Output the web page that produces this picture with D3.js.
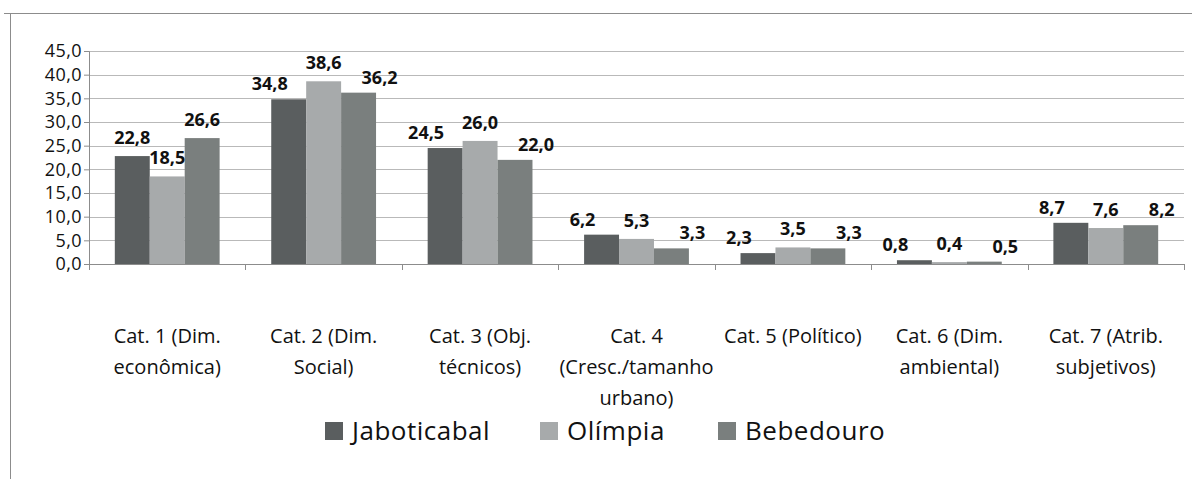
<!DOCTYPE html>
<html>
<head>
<meta charset="utf-8">
<script src="https://cdn.jsdelivr.net/npm/d3@7"></script>
<style>
  body { margin: 0; background: #fff; }
  svg { font-family: "Open Sans", sans-serif; }
</style>
</head>
<body>
<div id="chart"></div>
<script>
const categories = [
  "Cat. 1 (Dim. econômica)",
  "Cat. 2 (Dim. Social)",
  "Cat. 3 (Obj. técnicos)",
  "Cat. 4 (Cresc./tamanho urbano)",
  "Cat. 5 (Político)",
  "Cat. 6 (Dim. ambiental)",
  "Cat. 7 (Atrib. subjetivos)"
]
const seriesNames = ["Jaboticabal", "Olímpia", "Bebedouro"]
const jaboticabal = [22.8, 34.8, 24.5, 6.2, 2.3, 0.8, 8.7]
const olimpia = [18.5, 38.6, 26.0, 5.3, 3.5, 0.4, 7.6]
const bebedouro = [26.6, 36.2, 22.0, 3.3, 3.3, 0.5, 8.2]
const yTicks = [0, 5, 10, 15, 20, 25, 30, 35, 40, 45]

const seriesValues = [jaboticabal, olimpia, bebedouro]
const colors = ["#5a5e5f", "#a7aaab", "#7a7f7e"]

/* Chart Dimensions */
const dimensions = {
  width: 1192,
  height: 479,
  margin: { top: 51, right: 8, bottom: 215, left: 89 }
}
dimensions.boundedWidth = dimensions.width - dimensions.margin.left - dimensions.margin.right
dimensions.boundedHeight = dimensions.height - dimensions.margin.top - dimensions.margin.bottom

const svg = d3.select("#chart").append("svg")
    .attr("width", dimensions.width)
    .attr("height", dimensions.height)

// outer frame
svg.append("path")
    .attr("d", `M4,13.5 H${dimensions.width} M10.5,13.5 V${dimensions.height}`)
    .attr("stroke", "#8c8c8c")
    .attr("fill", "none")

const bounds = svg.append("g")
    .attr("transform", `translate(${dimensions.margin.left},${dimensions.margin.top})`)

/* Scales */
const xScale = d3.scaleBand()
    .domain(categories)
    .range([0, dimensions.boundedWidth])

const groupWidth = xScale.bandwidth() * 0.67
const xInner = d3.scaleBand()
    .domain(seriesNames)
    .range([(xScale.bandwidth() - groupWidth) / 2, (xScale.bandwidth() + groupWidth) / 2])

const yScale = d3.scaleLinear()
    .domain([0, 45])
    .range([dimensions.boundedHeight, 0])

const fmt = v => d3.format(".1f")(v).replace(".", ",")

/* Gridlines */
bounds.append("g")
  .selectAll("line")
  .data(yTicks.slice(1))
  .join("line")
    .attr("x1", 0)
    .attr("x2", dimensions.boundedWidth)
    .attr("y1", d => Math.round(yScale(d)) + 0.5)
    .attr("y2", d => Math.round(yScale(d)) + 0.5)
    .attr("stroke", "#b9b9b9")

/* Bars */
const groups = bounds.append("g")
  .selectAll("g")
  .data(categories)
  .join("g")
    .attr("transform", d => `translate(${xScale(d)},0)`)

const barData = (d, i) => seriesNames.map((s, j) => ({ s, v: seriesValues[j][i], j, i }))

groups.selectAll("rect")
  .data(barData)
  .join("rect")
    .attr("x", d => xInner(d.s))
    .attr("y", d => yScale(d.v))
    .attr("width", xInner.bandwidth())
    .attr("height", d => dimensions.boundedHeight - yScale(d.v))
    .attr("fill", d => colors[d.j])

// nudge outer labels sideways when they sit at about the same height as the middle one
const labelShift = d => {
  if (d.j === 1) return 0
  const yMid = yScale(seriesValues[1][d.i])
  if (Math.abs(yScale(d.v) - yMid) >= 20) return 0
  return d.j === 0 ? -19 : 21
}

groups.selectAll("text")
  .data(barData)
  .join("text")
    .attr("x", d => xInner(d.s) + xInner.bandwidth() / 2 + labelShift(d))
    .attr("y", d => yScale(d.v) - (labelShift(d) ? 9 : 12))
    .attr("text-anchor", "middle")
    .attr("font-size", "18px")
    .attr("font-weight", "bold")
    .attr("fill", "#111")
    .text(d => fmt(d.v))

/* Y axis */
const yAxis = bounds.append("g")
    .call(d3.axisLeft(yScale).tickValues(yTicks).tickFormat(fmt).tickSize(5).tickPadding(2))
yAxis.select(".domain").attr("stroke", "#8c8c8c")
yAxis.selectAll(".tick line").attr("stroke", "#8c8c8c")
yAxis.selectAll(".tick text")
    .attr("font-size", "18px")
    .attr("letter-spacing", "0.4px")
    .attr("font-family", "Open Sans, sans-serif")
    .attr("fill", "#111")

/* X axis */
const xAxis = bounds.append("g")
    .attr("transform", `translate(0,${dimensions.boundedHeight})`)
xAxis.append("line")
    .attr("x1", 0).attr("x2", dimensions.boundedWidth)
    .attr("y1", 0.5).attr("y2", 0.5)
    .attr("stroke", "#8c8c8c")
xAxis.selectAll(".cat-tick")
  .data(d3.range(categories.length + 1))
  .join("line")
    .attr("class", "cat-tick")
    .attr("x1", i => Math.round(i * xScale.step()) + 0.5)
    .attr("x2", i => Math.round(i * xScale.step()) + 0.5)
    .attr("y1", 0)
    .attr("y2", 6)
    .attr("stroke", "#8c8c8c")

const labels = xAxis.selectAll(".cat-label")
  .data(categories)
  .join("text")
    .attr("class", "cat-label")
    .attr("x", d => xScale(d) + xScale.bandwidth() / 2)
    .attr("y", 79)
    .attr("text-anchor", "middle")
    .attr("font-size", "20px")
    .attr("fill", "#111")

// word wrap for the category labels
labels.each(function(d) {
  const text = d3.select(this)
  const words = d.split(" ")
  let line = []
  let tspan = text.append("tspan").attr("x", text.attr("x")).attr("dy", 0)
  words.forEach(w => {
    line.push(w)
    tspan.text(line.join(" "))
    if (tspan.node().getComputedTextLength() > 165 && line.length > 1) {
      line.pop()
      tspan.text(line.join(" "))
      line = [w]
      tspan = text.append("tspan").attr("x", text.attr("x")).attr("dy", 31).text(w)
    }
  })
})

/* Legend */
const legendX = [325, 540, 718]
const legend = svg.append("g")
  .selectAll("g")
  .data(seriesNames)
  .join("g")
    .attr("transform", (d, i) => `translate(${legendX[i]},422)`)
legend.append("rect")
    .attr("width", 18)
    .attr("height", 18)
    .attr("fill", (d, i) => colors[i])
legend.append("text")
    .attr("x", 27)
    .attr("y", 18)
    .attr("font-size", "26px")
    .attr("letter-spacing", "0.5px")
    .attr("fill", "#111")
    .text(d => d)
</script>
</body>
</html>
